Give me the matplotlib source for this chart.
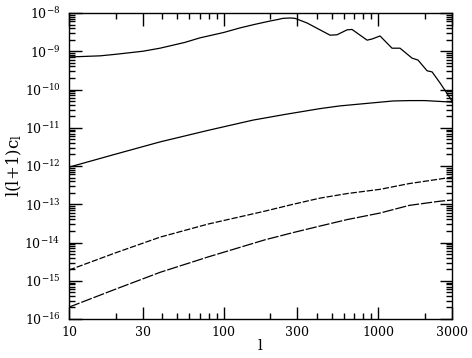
import numpy as np
from matplotlib import pyplot as plt
from matplotlib.ticker import FixedLocator, NullFormatter, LogLocator

plt.rcParams['font.family'] = ['DejaVu Serif']
plt.rcParams['mathtext.fontset'] = 'dejavuserif'

# curve data (l, log10 value)
l_top = [10, 15.9, 20, 30, 38.8, 56, 70.3, 100, 127.6, 158, 199.5, 224, 242, 270, 290, 346,
         420, 488, 541, 629, 677, 847, 912, 1027, 1228, 1383, 1655, 1808, 2069, 2230, 2512,
         2913, 3000]
v_top = [-9.15, -9.12, -9.08, -9.00, -8.92, -8.77, -8.65, -8.51, -8.39, -8.30, -8.21, -8.17,
         -8.14, -8.13, -8.14, -8.26, -8.44, -8.58, -8.57, -8.44, -8.43, -8.71, -8.68, -8.60,
         -8.92, -8.92, -9.18, -9.23, -9.51, -9.54, -9.83, -10.22, -10.30]

l_two = [10, 20, 38.8, 79, 155, 251, 420, 562, 762, 1247, 1585, 2010, 3000]
v_two = [-12.03, -11.69, -11.37, -11.07, -10.80, -10.65, -10.50, -10.43, -10.38, -10.30,
         -10.29, -10.29, -10.33]

l_three = [10, 20, 38.8, 79, 185, 282, 420, 631, 1027, 1585, 2512, 3000]
v_three = [-14.72, -14.27, -13.86, -13.52, -13.18, -13.00, -12.84, -12.72, -12.61, -12.46,
           -12.34, -12.29]

l_four = [10, 20, 38.8, 79, 185, 282, 420, 631, 1027, 1585, 2512, 3000]
v_four = [-15.69, -15.22, -14.78, -14.38, -13.93, -13.74, -13.57, -13.40, -13.23, -13.03,
          -12.92, -12.89]

fig = plt.figure(figsize=(4.72, 3.58), dpi=100)
ax = fig.add_axes([69/472, 1 - 319/358, 383/472, 306/358])

lw = 0.9
ax.plot(l_top, 10**np.array(v_top), color='black', lw=lw)
ax.plot(l_two, 10**np.array(v_two), color='black', lw=lw)
ax.plot(l_three, 10**np.array(v_three), color='black', lw=lw, dashes=(5, 1.5))
ax.plot(l_four, 10**np.array(v_four), color='black', lw=lw, dashes=(9, 1.5))

ax.set_xscale('log')
ax.set_yscale('log')
ax.set_xlim(10, 3000)
ax.set_ylim(1e-16, 1e-8)

xmaj = [10, 30, 100, 300, 1000, 3000]
xmin = [20, 40, 50, 60, 70, 80, 90, 200, 400, 500, 600, 700, 800, 900, 2000]
ax.xaxis.set_major_locator(FixedLocator(xmaj))
ax.xaxis.set_minor_locator(FixedLocator(xmin))
ax.set_xticklabels([str(v) for v in xmaj])
ax.xaxis.set_minor_formatter(NullFormatter())

ax.yaxis.set_minor_locator(LogLocator(base=10, subs=np.arange(2, 10), numticks=20))
ax.yaxis.set_minor_formatter(NullFormatter())
ax.set_yticks([10.0**e for e in range(-16, -7)])
ax.set_yticklabels(['$10^{%d}$' % e for e in range(-16, -7)])

ax.tick_params(which='both', direction='in', top=True, right=True, width=1, labelsize=9)
ax.tick_params(which='major', length=9)
ax.tick_params(which='minor', length=4.5)
ax.tick_params(axis='x', which='major', pad=5)
ax.tick_params(axis='y', which='major', pad=6)
for s in ax.spines.values():
    s.set_linewidth(1)

ax.set_xlabel('l', fontsize=11, labelpad=0)
ax.set_ylabel(r'l(l+1)c$_\mathregular{l}$', fontsize=12)
ax.yaxis.set_label_coords(-0.118, 0.5)

fig.savefig('out.png', dpi=100)
